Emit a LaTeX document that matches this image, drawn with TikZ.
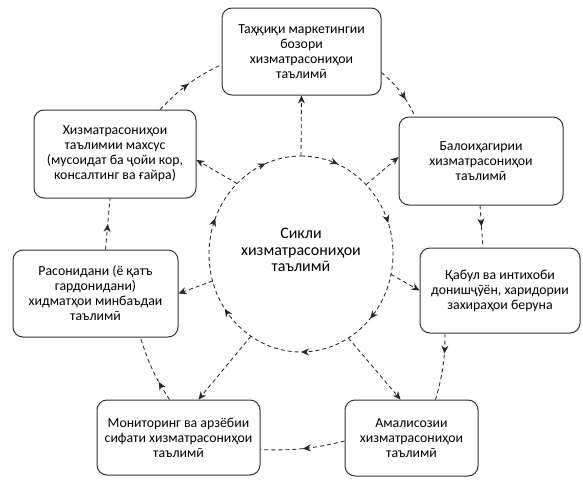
\documentclass[tikz,border=0pt]{standalone}
\usepackage{fontspec}
\setmainfont{Carlito}
\usetikzlibrary{arrows.meta,decorations.markings,calc}
\begin{document}
\begin{tikzpicture}[x=1pt,y=1pt,
  box/.style={draw=black!80, line width=1pt, rounded corners=10pt, align=center, inner sep=0pt,
    font=\fontsize{13.8}{15}\selectfont},
  dline/.style={draw=black!85, line width=0.85pt, dash pattern=on 4pt off 3pt},
  endarr/.style={dline, -{Stealth[length=8pt,width=7pt]}},
  midarr/.style={dline, postaction=decorate, decoration={markings,
    mark=at position #1 with {\arrow{Stealth[length=8pt,width=7pt]}}}},
  midarr/.default=0.55
]
\useasboundingbox (0,0) rectangle (583,-479);
% boxes
\node[box, minimum width=159pt, minimum height=87pt] (T) at (301.5,-51.5)
  {Таҳқиқи маркетингии\\бозори\\хизматрасониҳои\\таълимӣ};
\node[box, minimum width=162pt, minimum height=88pt] (UL) at (115,-154)
  {Хизматрасониҳои\\таълимии махсус\\(мусоидат ба ҷойи кор,\\консалтинг ва ғайра)};
\node[box, minimum width=164pt, minimum height=88pt] (UR) at (481,-161)
  {Балоиҳагирии\\хизматрасониҳои\\таълимӣ};
\node[box, minimum width=165pt, minimum height=87pt] (LM) at (95.5,-293.5)
  {Расонидани (ё қатъ\\гардонидани)\\хидматҳои минбаъдаи\\таълимӣ};
\node[box, minimum width=160pt, minimum height=85pt] (RM) at (500,-290.5)
  {Қабул ва интихоби\\донишҷӯён, харидории\\захираҳои беруна};
\node[box, minimum width=163pt, minimum height=75pt] (BL) at (178.5,-437.5)
  {Мониторинг ва арзёбии\\сифати хизматрасониҳои\\таълимӣ};
\node[box, minimum width=133pt, minimum height=76pt] (BR) at (411.5,-438)
  {Амалисозии\\хизматрасониҳои\\таълимӣ};
% centre
\coordinate (C) at (301,-254);
\node[align=center, font=\fontsize{16}{16.5}\selectfont] (CL) at (301,-250)
  {Сикли\\хизматрасониҳои\\таълимӣ};
\draw[dline, postaction=decorate, decoration={markings,
    mark=at position 0.064 with {\arrow{Stealth[length=8pt,width=7pt]}},
    mark=at position 0.197 with {\arrow{Stealth[length=8pt,width=7pt]}},
    mark=at position 0.367 with {\arrow{Stealth[length=8pt,width=7pt]}},
    mark=at position 0.5 with {\arrow{Stealth[length=8pt,width=7pt]}},
    mark=at position 0.653 with {\arrow{Stealth[length=8pt,width=7pt]}},
    mark=at position 0.811 with {\arrow{Stealth[length=8pt,width=7pt]}},
    mark=at position 0.939 with {\arrow{Stealth[length=8pt,width=7pt]}}}]
  ($(C)+(90:92 and 98)$) arc[start angle=90, end angle=-270, x radius=92, y radius=98];
% spoke points on circle
\coordinate (s1) at ($(C)+(90:92 and 98)$);
\coordinate (s2) at ($(C)+(45:92 and 98)$);
\coordinate (s3) at ($(C)+(-12:92 and 98)$);
\coordinate (s4) at ($(C)+(-59:92 and 98)$);
\coordinate (s5) at ($(C)+(-123:92 and 98)$);
\coordinate (s6) at ($(C)+(-164:92 and 98)$);
\coordinate (s7) at ($(C)+(134:92 and 98)$);
\draw[endarr] (s1) -- (T.south);
\draw[endarr] (s2) -- ([yshift=4pt]UR.west);
\draw[endarr] (s3) -- (RM.west);
\draw[endarr] (s4) -- ([xshift=-11pt]BR.north);
\draw[endarr] (s5) -- ([xshift=20pt]BL.north);
\draw[endarr] (s6) -- (LM.east);
\draw[endarr] (s7) -- ([yshift=-6pt]UL.east);
% outer cycle
\draw[midarr=0.65] ([yshift=-21pt]T.east) to[bend left=12] ([xshift=-66pt]UR.north);
\draw[midarr=0.5] ([xshift=-1pt]UR.south) to ([xshift=-17pt]RM.north);
\draw[midarr=0.3] ([xshift=-55pt]RM.south) to[bend left=8] ([xshift=24pt]BR.north);
\draw[midarr=0.5] ([yshift=-3pt]BR.west) to[bend left=8] ([yshift=-12pt]BL.east);
\draw[midarr=0.3] ([xshift=-9pt]BL.north) to[bend left=8] ([xshift=45pt]LM.south);
\draw[midarr=0.5] ([xshift=10pt]LM.north) to ([xshift=-5pt]UL.south);
\draw[midarr=0.5] ([xshift=45pt]UL.north) to[bend left=10] ([yshift=-13pt]T.west);
\end{tikzpicture}
\end{document}
